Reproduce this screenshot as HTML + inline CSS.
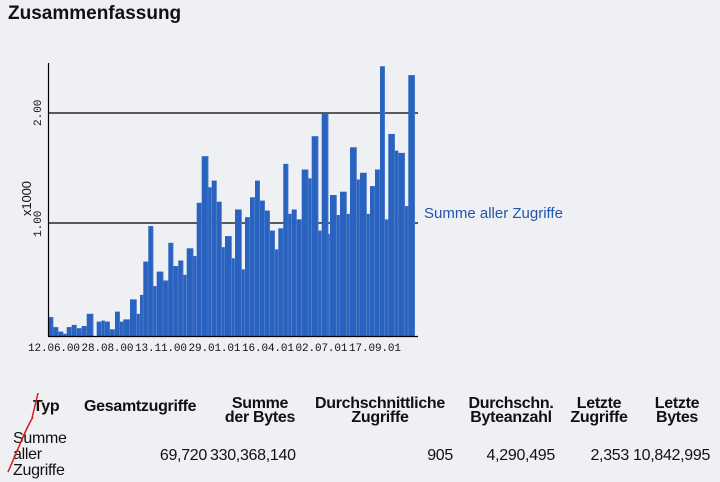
<!DOCTYPE html>
<html><head><meta charset="utf-8"><style>
body{margin:0;width:720px;height:482px;background:#eef0f4;overflow:hidden;position:relative;font-family:"Liberation Sans",sans-serif;color:#111}
.t{position:absolute;white-space:nowrap;font-size:16px;line-height:14px;letter-spacing:-0.3px}
.b{font-weight:bold}
.c{text-align:center}
.r{text-align:right}
</style></head><body>
<div class="t b" style="left:8px;top:4px;font-family:'Liberation Sans',sans-serif;font-size:19px;line-height:20px;letter-spacing:0">Zusammenfassung</div>
<svg id="s" width="720" height="380" style="position:absolute;left:0;top:0"></svg>
<div class="t" style="left:424px;top:207px;color:#2255b0;font-size:15px;letter-spacing:0">Summe aller Zugriffe</div>
<div class="t b" style="left:33px;top:400px">Typ</div>
<div class="t b" style="left:84px;top:400px">Gesamtzugriffe</div>
<div class="t b c" style="left:212px;width:96px;top:397px">Summe<br>der Bytes</div>
<div class="t b c" style="left:305px;width:150px;top:397px">Durchschnittliche<br>Zugriffe</div>
<div class="t b c" style="left:456px;width:110px;top:397px">Durchschn.<br>Byteanzahl</div>
<div class="t b c" style="left:563px;width:72px;top:397px">Letzte<br>Zugriffe</div>
<div class="t b c" style="left:637px;width:80px;top:397px">Letzte<br>Bytes</div>
<div class="t" style="left:13px;top:431px;line-height:16px">Summe<br>aller<br>Zugriffe</div>
<div class="t r" style="left:120px;width:87px;top:449px">69,720</div>
<div class="t" style="left:210px;top:449px">330,368,140</div>
<div class="t r" style="left:380px;width:73px;top:449px">905</div>
<div class="t r" style="left:460px;width:95px;top:449px">4,290,495</div>
<div class="t r" style="left:560px;width:69px;top:449px">2,353</div>
<div class="t" style="left:633px;top:449px">10,842,995</div>
<svg width="60" height="90" style="position:absolute;left:0;top:390px"><path d="M38 3 L32 28 M33 27 C25 40 20 55 8 82" stroke="#d02020" stroke-width="1.5" fill="none"/></svg>
<script>
var d=[[145,.17],[160,.08],[175,.04],[190,.02],[200,.08],[215,.1],[230,.07],[245,.09],[260,.2],[280,0],[290,.13],[305,.14],[315,.13],[330,.06],[345,.22],[360,.13],[370,.15],[390,.33],[410,.2],[420,.37],[430,.67],[445,.99],[460,.45],[470,.58],[490,.5],[505,.84],[520,.63],[535,.68],[550,.55],[560,.79],[580,.72],[590,1.2],[605,1.62],[625,1.34],[635,1.4],[650,1.21],[665,.8],[675,.9],[695,.7],[705,1.14],[725,.6],[735,1.07],[750,1.25],[765,1.4],[780,1.22],[795,1.13],[810,.95],[825,.78],[835,.97],[850,1.55],[865,1.1],[875,1.14],[890,1.05],[905,1.5],[925,1.42],[935,1.8],[955,.95],[965,2.0],[985,.92],[990,1.27],[1010,1.09],[1020,1.3],[1040,1.1],[1050,1.7],[1070,1.41],[1080,1.47],[1100,1.1],[1110,1.35],[1125,1.5],[1140,2.43],[1155,1.05],[1165,1.82],[1185,1.67],[1195,1.65],[1215,1.17],[1225,2.35],[1245,0]];
var h='';
h+='<line x1="49" y1="113" x2="418" y2="113" stroke="#000" stroke-width="1.3"/>';
h+='<line x1="49" y1="223" x2="418" y2="223" stroke="#000" stroke-width="1.3"/>';
for(var i=0;i<d.length-1;i++){var x=d[i][0]/3,w=(d[i+1][0]-d[i][0])/3,v=d[i][1];var y=336-v*111;
h+='<rect x="'+x.toFixed(1)+'" y="'+y.toFixed(1)+'" width="'+w.toFixed(1)+'" height="'+(336-y).toFixed(1)+'" fill="#2a62bf"/>';
h+='<line x1="'+(x+w-0.3).toFixed(1)+'" y1="'+y.toFixed(1)+'" x2="'+(x+w-0.3).toFixed(1)+'" y2="336" stroke="#5a86d0" stroke-width="0.6"/>';}
h+='<line x1="48.5" y1="63" x2="48.5" y2="337" stroke="#000" stroke-width="1.2"/>';
h+='<line x1="48" y1="336.5" x2="418" y2="336.5" stroke="#000" stroke-width="1.2"/>';
h+='<line x1="415" y1="113" x2="418" y2="113" stroke="#000"/>';
var f='font-family="Liberation Mono,monospace" font-size="11" fill="#111"';
h+='<text '+f+' transform="translate(41,126) rotate(-90)">2.00</text>';
h+='<text '+f+' transform="translate(41,237) rotate(-90)">1.00</text>';
h+='<text font-family="Liberation Sans,sans-serif" font-size="13" fill="#111" transform="translate(31,216) rotate(-90)" textLength="35">x1000</text>';
var l=['12.06.00','28.08.00','13.11.00','29.01.01','16.04.01','02.07.01','17.09.01'];
for(var j=0;j<l.length;j++){h+='<text '+f+' x="'+(28+j*53.5)+'" y="351" textLength="52" font-size="11">'+l[j]+'</text>';}
document.getElementById('s').innerHTML=h;
</script>
</body></html>
